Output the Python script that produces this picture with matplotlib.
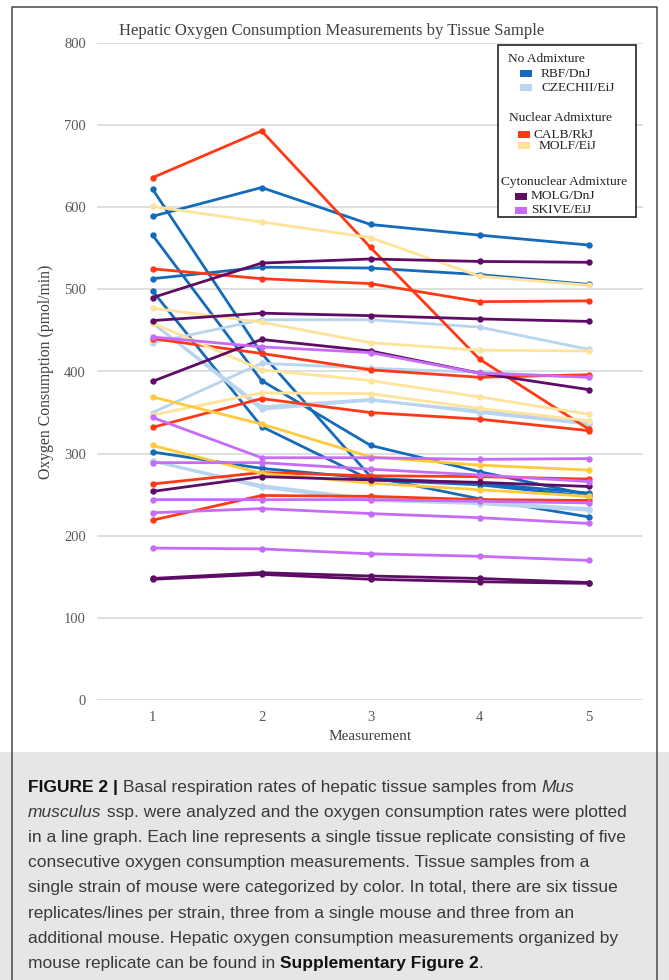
import matplotlib
matplotlib.use("Agg")
import matplotlib.pyplot as plt
from matplotlib.patches import Rectangle

# ---- data -----------------------------------------------------------------
measurements = [1, 2, 3, 4, 5]

# oxygen consumption (pmol/min), six tissue replicates per strain
rbf_dnj = [
    [589, 624, 579, 566, 554],
    [513, 527, 526, 518, 506],
    [566, 389, 310, 278, 250],
    [622, 422, 272, 245, 223],
    [498, 333, 268, 262, 248],
    [302, 282, 270, 264, 252],
]
czechii_eij = [
    [435, 463, 463, 454, 427],
    [459, 354, 365, 352, 337],
    [350, 410, 404, 399, 393],
    [291, 259, 243, 239, 231],
    [291, 261, 245, 241, 233],
    [459, 357, 366, 350, 336],
]
calb_rkj = [
    [636, 693, 551, 415, 330],
    [525, 513, 507, 485, 486],
    [440, 422, 402, 393, 396],
    [332, 367, 350, 342, 328],
    [263, 277, 273, 272, 269],
    [219, 249, 248, 244, 243],
]
molf_eij = [
    [601, 582, 563, 516, 505],
    [477, 460, 435, 426, 425],
    [459, 402, 389, 369, 348],
    [347, 374, 373, 355, 340],
    [369, 336, 296, 286, 280],
    [310, 276, 264, 256, 248],
]
molg_dnj = [
    [490, 532, 537, 534, 533],
    [462, 471, 468, 464, 461],
    [388, 439, 425, 398, 378],
    [254, 272, 268, 265, 260],
    [148, 155, 151, 148, 143],
    [147, 153, 147, 144, 142],
]
skive_eij = [
    [442, 430, 423, 398, 393],
    [344, 295, 295, 293, 294],
    [289, 289, 281, 274, 266],
    [244, 244, 244, 242, 240],
    [228, 233, 227, 222, 215],
    [185, 184, 178, 175, 170],
]

groups = [
    ("No Admixture", [("RBF/DnJ", rbf_dnj), ("CZECHII/EiJ", czechii_eij)]),
    ("Nuclear Admixture", [("CALB/RkJ", calb_rkj), ("MOLF/EiJ", molf_eij)]),
    ("Cytonuclear Admixture", [("MOLG/DnJ", molg_dnj), ("SKIVE/EiJ", skive_eij)]),
]

# ---- styling ----------------------------------------------------------------
colors = {
    "RBF/DnJ": "#136BBA",
    "CZECHII/EiJ": "#B9D4EE",
    "CALB/RkJ": "#FF3916",
    "MOLF/EiJ": "#FFE39B",
    "MOLG/DnJ": "#5E0C66",
    "SKIVE/EiJ": "#C76CF6",
}
# two MOLF/EiJ replicates render in a deeper gold
line_color_override = {("MOLF/EiJ", 4): "#FFCA3C", ("MOLF/EiJ", 5): "#FFCA3C"}

W, H = 669, 980
fig = plt.figure(figsize=(W / 100, H / 100), dpi=100)
fig.patch.set_facecolor("white")

serif = ["Liberation Serif", "DejaVu Serif"]
sans = ["Liberation Sans", "DejaVu Sans"]

# plot region in pixels: x 97..643, y 43..700
ax = fig.add_axes([97 / W, 1 - 700 / H, (643 - 97) / W, (700 - 43) / H])
ax.set_xlim(0.49, 5.5)
ax.set_ylim(0, 800)
for s in ax.spines.values():
    s.set_visible(False)
ax.set_yticks(range(0, 801, 100))
ax.set_xticks(measurements)
ax.yaxis.grid(True, color="#D9D9D9", linewidth=1.2)
ax.set_axisbelow(True)
ax.tick_params(length=0, labelsize=10.5, labelcolor="#595959", pad=8)
for lab in ax.get_xticklabels() + ax.get_yticklabels():
    lab.set_fontfamily(serif)
ax.set_xlabel("Measurement", family=serif, fontsize=11, color="#404040", labelpad=4)
ax.set_ylabel("Oxygen Consumption (pmol/min)", family=serif, fontsize=11.3,
              color="#404040", labelpad=7)

for _, members in groups:
    for name, reps in members:
        for i, vals in enumerate(reps):
            c = line_color_override.get((name, i), colors[name])
            ax.plot(measurements, vals, color=c, linewidth=2.0, marker="o",
                    markersize=4.6, markeredgewidth=0, solid_capstyle="round")

# ---- overlay in pixel coordinates ------------------------------------------
ov = fig.add_axes([0, 0, 1, 1], zorder=5)
ov.set_xlim(0, W)
ov.set_ylim(H, 0)
ov.axis("off")
ov.patch.set_alpha(0)

# figure frame and caption panel
ov.add_patch(Rectangle((0, 752), W, H - 752, facecolor="#E6E6E6", edgecolor="none"))
ov.plot([12, 12, 657, 657], [980, 7, 7, 980], color="#555555", linewidth=1.2)

ov.text(332, 31, "Hepatic Oxygen Consumption Measurements by Tissue Sample",
        family=serif, fontsize=12.0, color="#404040", ha="center", va="center")

# legend box
ov.add_patch(Rectangle((498, 45), 138, 172, facecolor="white", edgecolor="#222222",
                       linewidth=1.2))
leg_font = dict(family=serif, fontsize=9.6, color="#222222", va="center")
header_pos = {"No Admixture": (508, 59), "Nuclear Admixture": (509, 118),
              "Cytonuclear Admixture": (501, 182)}
entry_pos = {
    "RBF/DnJ": (520, 541, 74), "CZECHII/EiJ": (520, 541, 88),
    "CALB/RkJ": (518, 533, 135), "MOLF/EiJ": (518, 539, 146),
    "MOLG/DnJ": (515, 531, 196), "SKIVE/EiJ": (515, 531, 210),
}
for header, members in groups:
    hx, hy = header_pos[header]
    ov.text(hx, hy, header, ha="left", **leg_font)
    for name, _ in members:
        sx, tx, ty = entry_pos[name]
        ov.add_patch(Rectangle((sx, ty - 3.5), 12, 7, facecolor=colors[name],
                               edgecolor="none"))
        ov.text(tx, ty, name, ha="left", **leg_font)

# caption with mixed weights / styles
caption = [
    [("FIGURE 2 | ", "bold", "normal"),
     ("Basal respiration rates of hepatic tissue samples from ", "normal", "normal"),
     ("Mus", "normal", "italic")],
    [("musculus", "normal", "italic"),
     (" ssp. were analyzed and the oxygen consumption rates were plotted", "normal", "normal")],
    [("in a line graph. Each line represents a single tissue replicate consisting of five",
      "normal", "normal")],
    [("consecutive oxygen consumption measurements. Tissue samples from a", "normal", "normal")],
    [("single strain of mouse were categorized by color. In total, there are six tissue",
      "normal", "normal")],
    [("replicates/lines per strain, three from a single mouse and three from an",
      "normal", "normal")],
    [("additional mouse. Hepatic oxygen consumption measurements organized by",
      "normal", "normal")],
    [("mouse replicate can be found in ", "normal", "normal"),
     ("Supplementary Figure 2", "bold", "normal"), (".", "normal", "normal")],
]
renderer = fig.canvas.get_renderer()
y0, dy = 787, 25.2
for k, runs in enumerate(caption):
    x = 28
    for txt, weight, style in runs:
        t = ov.text(x, y0 + k * dy, txt, family=sans, fontsize=12.55, weight=weight,
                    style=style, color="#111111" if weight == "bold" else "#3A3A3A",
                    ha="left", va="center")
        bb = t.get_window_extent(renderer=renderer)
        x += bb.width

fig.savefig("out.png", dpi=100)
